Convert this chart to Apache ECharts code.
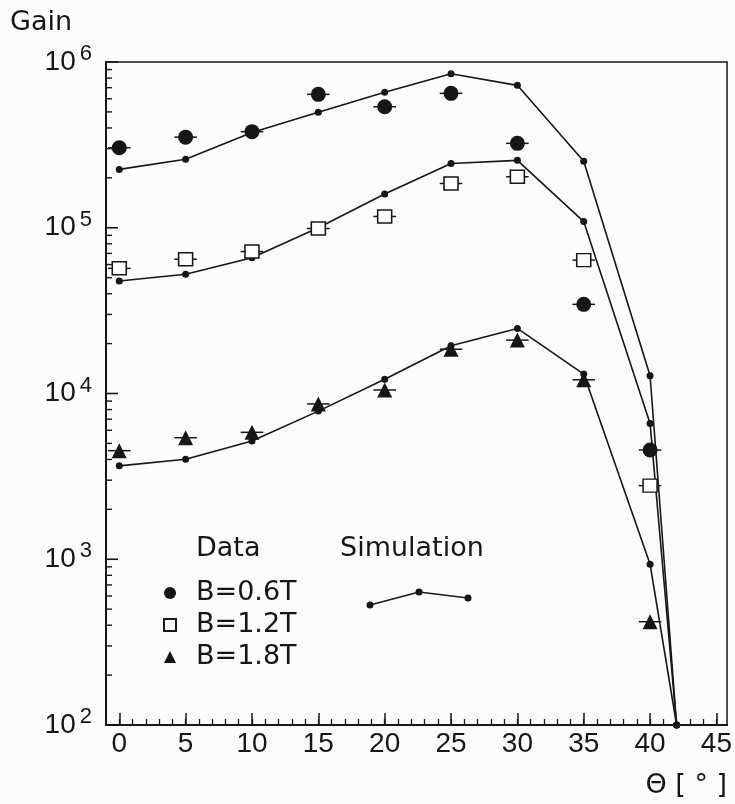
<!DOCTYPE html>
<html><head><meta charset="utf-8">
<script src="https://cdn.jsdelivr.net/npm/echarts@6/dist/echarts.min.js"></script>
<style>html,body{margin:0;padding:0;background:#fff}#c{width:735px;height:804px}</style>
</head><body><div id="c"></div>
<script>
// ---- data ----
const simAngles = [0, 5, 10, 15, 20, 25, 30, 35, 40, 42];
const sim06 = [2.25e5, 2.59e5, 3.75e5, 4.98e5, 6.56e5, 8.49e5, 7.23e5, 2.52e5, 1.28e4, 100];
const sim12 = [4.77e4, 5.24e4, 6.59e4, 1.0e5, 1.6e5, 2.44e5, 2.55e5, 1.09e5, 6.6e3, 100];
const sim18 = [3.66e3, 4.01e3, 5.17e3, 7.83e3, 1.22e4, 1.94e4, 2.47e4, 1.31e4, 933, 100];
const dataAngles = [0, 5, 10, 15, 20, 25, 30, 35, 40];
const data06 = [3.04e5, 3.52e5, 3.8e5, 6.38e5, 5.37e5, 6.47e5, 3.23e5, 3.45e4, 4.56e3];
const data12 = [5.69e4, 6.46e4, 7.18e4, 9.9e4, 1.17e5, 1.85e5, 2.03e5, 6.38e4, 2.78e3];
const data18 = [4.52e3, 5.41e3, 5.83e3, 8.65e3, 1.05e4, 1.85e4, 2.1e4, 1.21e4, 420];
const angleErr = 0.85;
const seriesNames = ['B=0.6T', 'B=1.2T', 'B=1.8T'];
const xMajorTicks = [0, 5, 10, 15, 20, 25, 30, 35, 40, 45];
const xMinorTicks = Array.from({length: 46}, (_, i) => i);
const yMajorTicks = [1e2, 1e3, 1e4, 1e5, 1e6];
const yMinorTicks = [];
[1e2, 1e3, 1e4, 1e5].forEach(d => { for (let m = 2; m <= 9; m++) yMinorTicks.push(m * d); });

const INK = '#161616';
const NUMFONT = 'Liberation Sans';
const TXTFONT = 'DejaVu Sans';
const X_MIN = -1, X_MAX = 45.8;

function zip(xs, ys) { return xs.map((x, i) => [x, ys[i]]); }

function simSeries(vals) {
  return {
    type: 'line', data: zip(simAngles, vals), symbol: 'circle', symbolSize: 7,
    itemStyle: {color: INK, opacity: 1}, lineStyle: {color: INK, width: 1.6},
    silent: true, z: 3, clip: false, animation: false
  };
}
function errSeries(vals) {
  return {
    type: 'custom', data: zip(dataAngles, vals), silent: true, z: 2, animation: false,
    renderItem: function (params, api) {
      const x = api.value(0), y = api.value(1);
      const p1 = api.coord([x - angleErr, y]);
      const p2 = api.coord([x + angleErr, y]);
      return {type: 'line', shape: {x1: p1[0], y1: p1[1], x2: p2[0], y2: p2[1]},
              style: {stroke: INK, lineWidth: 1.5}};
    }
  };
}
// gain-axis tick marks: thin rectangles anchored on the left edge through the axis scale
function yTickSeries(values, len, width) {
  return {
    type: 'scatter', data: values.map(v => [X_MIN, v]), symbol: 'rect',
    symbolSize: [len, width], symbolOffset: [len / 2, 0],
    itemStyle: {color: INK, opacity: 1}, silent: true, z: 8, clip: false, animation: false
  };
}

const chart = echarts.init(document.getElementById('c'), null, {renderer: 'canvas'});
chart.setOption({
  backgroundColor: '#fcfcfc',
  animation: false,
  grid: {left: 106, top: 62, right: 4, bottom: 79, show: true, borderColor: INK, borderWidth: 1.5},
  xAxis: [{
    type: 'value', min: X_MIN, max: X_MAX, position: 'bottom',
    axisLine: {show: true, onZero: false, lineStyle: {color: INK, width: 2}},
    axisTick: {show: true, inside: true, length: 12, lineStyle: {color: INK, width: 1.5}, customValues: xMajorTicks},
    axisLabel: {customValues: xMajorTicks, color: INK, fontFamily: NUMFONT, fontSize: 28, margin: 5},
    splitLine: {show: false}
  }, {
    type: 'value', min: X_MIN, max: X_MAX, position: 'bottom',
    axisLine: {show: false, onZero: false}, axisLabel: {show: false}, splitLine: {show: false},
    axisTick: {show: true, inside: true, length: 6, lineStyle: {color: INK, width: 1.3}, customValues: xMinorTicks}
  }],
  yAxis: [{
    type: 'log', logBase: 10, min: 100, max: 1e6, position: 'left',
    axisLine: {show: true, onZero: false, lineStyle: {color: INK, width: 2}},
    axisTick: {show: false},
    axisLabel: {
      margin: 14,
      formatter: v => '{b|10}{s|' + Math.round(Math.log10(v)) + '}',
      rich: {
        b: {fontFamily: NUMFONT, fontSize: 28, color: INK},
        s: {fontFamily: NUMFONT, fontSize: 22, color: INK, padding: [0, 0, 16, 4]}
      }
    },
    splitLine: {show: false}
  }],
  legend: {
    data: seriesNames, orient: 'vertical', left: 163, top: 577, padding: 0,
    itemWidth: 12, itemHeight: 12, itemGap: 0, selectedMode: false,
    itemStyle: {opacity: 1},
    textStyle: {fontFamily: TXTFONT, fontSize: 27, color: INK, lineHeight: 32, padding: [0, 0, 0, 15]}
  },
  graphic: [
    {type: 'text', left: 10, top: 9, style: {text: 'Gain', font: '27px "DejaVu Sans"', fill: INK}},
    {type: 'text', left: 196, top: 535, style: {text: 'Data', font: '27px "DejaVu Sans"', fill: INK}},
    {type: 'text', left: 340, top: 535, style: {text: 'Simulation', font: '27px "DejaVu Sans"', fill: INK}},
    {type: 'text', right: 8, top: 772, style: {text: 'Θ [ ° ]', font: '27px "DejaVu Sans"', fill: INK}},
    {type: 'polyline', shape: {points: [[370, 605], [419, 592], [468, 598]]}, style: {stroke: INK, lineWidth: 1.6, fill: null}},
    {type: 'circle', shape: {cx: 370, cy: 605, r: 3.5}, style: {fill: INK}},
    {type: 'circle', shape: {cx: 419, cy: 592, r: 3.5}, style: {fill: INK}},
    {type: 'circle', shape: {cx: 468, cy: 598, r: 3.5}, style: {fill: INK}}
  ],
  series: [
    yTickSeries(yMajorTicks, 12, 1.6),
    yTickSeries(yMinorTicks, 6, 1.4),
    simSeries(sim06), simSeries(sim12), simSeries(sim18),
    errSeries(data06), errSeries(data12), errSeries(data18),
    {name: seriesNames[0], type: 'scatter', data: zip(dataAngles, data06), symbol: 'circle', symbolSize: 15,
     itemStyle: {color: INK, opacity: 1}, z: 4, silent: true},
    {name: seriesNames[1], type: 'scatter', data: zip(dataAngles, data12), symbol: 'rect', symbolSize: [14, 13],
     itemStyle: {color: '#ffffff', borderColor: INK, borderWidth: 1.5, opacity: 1}, z: 4, silent: true},
    {name: seriesNames[2], type: 'scatter', data: zip(dataAngles, data18), symbol: 'triangle', symbolSize: 15,
     itemStyle: {color: INK, opacity: 1}, z: 4, silent: true}
  ]
});
</script></body></html>
